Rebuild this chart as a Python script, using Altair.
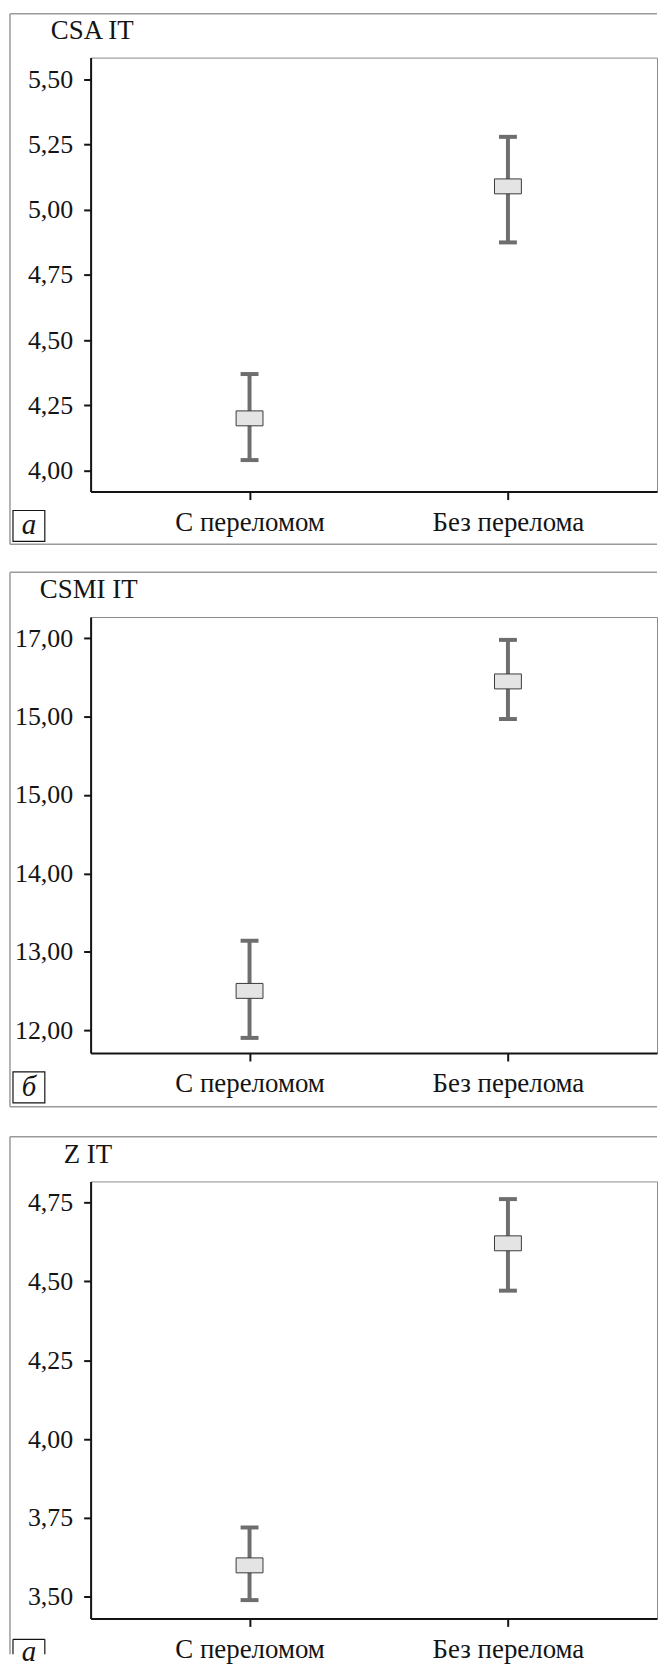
import altair as alt
import pandas as pd

# ---------------- data ----------------
groups = ["С переломом", "Без перелома"]

csa_mean = [4.20, 5.09]
csa_low = [4.04, 4.875]
csa_high = [4.37, 5.28]

csmi_mean = [12.50, 16.45]
csmi_low = [11.90, 15.97]
csmi_high = [13.14, 16.98]

z_mean = [3.60, 4.62]
z_low = [3.49, 4.47]
z_high = [3.72, 4.76]

titles = ["CSA IT", "CSMI IT", "Z IT"]
letters = ["а", "б", "а"]

csa_ticks = [4.00, 4.25, 4.50, 4.75, 5.00, 5.25, 5.50]
csa_labels = ["4,00", "4,25", "4,50", "4,75", "5,00", "5,25", "5,50"]
csmi_ticks = [12, 13, 14, 15, 16, 17]
csmi_labels = ["12,00", "13,00", "14,00", "15,00", "15,00", "17,00"]
z_ticks = [3.50, 3.75, 4.00, 4.25, 4.50, 4.75]
z_labels = ["3,50", "3,75", "4,00", "4,25", "4,50", "4,75"]

csa_domain = [3.919, 5.584]
csmi_domain = [11.707, 17.272]
z_domain = [3.432, 4.816]

# ---------------- style ----------------
FONT = "Liberation Serif"
INK = "#141414"
BAR = "#6e6e6e"
FRAME = "#9a9a9a"
W = 569
FL = -81  # frame left, relative to plot


def label_expr(vals, labs):
    s = ""
    for v, l in zip(vals, labs):
        s += f"abs(datum.value - {v}) < 1e-6 ? '{l}' : "
    return s + "''"


def panel(means, lows, highs, ticks, labels, domain, title, letter,
          H, top_off, bot_off, title_dx, bound_top=None, open_bottom=False):
    df = pd.DataFrame({"group": groups, "mean": means, "low": lows, "high": highs})
    one = pd.DataFrame({"k": [0]})

    x = alt.X(
        "group:N", sort=groups,
        scale=alt.Scale(type="point", padding=0.596, align=0.516),
        axis=alt.Axis(title=None, labelAngle=0, labelFont=FONT, labelFontSize=27,
                      labelColor=INK, labelPadding=10, tickSize=8, tickWidth=2,
                      tickColor=INK, domainColor=INK, domainWidth=2, grid=False),
    )
    yscale = alt.Scale(domain=domain, nice=False, zero=False)
    yaxis = alt.Axis(title=None, values=ticks, labelExpr=label_expr(ticks, labels),
                     labelFont=FONT, labelFontSize=26, labelColor=INK, labelPadding=11,
                     tickSize=7, tickWidth=2, tickColor=INK, domainColor=INK,
                     domainWidth=2, grid=False)

    base = alt.Chart(df)
    whisk = base.mark_rule(color=BAR, strokeWidth=4).encode(
        x=x, y=alt.Y("low:Q", scale=yscale, axis=yaxis), y2="high:Q")
    cap_lo = base.mark_tick(color=BAR, size=18, thickness=4, opacity=1).encode(
        x=x, y=alt.Y("low:Q", scale=yscale))
    cap_hi = base.mark_tick(color=BAR, size=18, thickness=4, opacity=1).encode(
        x=x, y=alt.Y("high:Q", scale=yscale))
    box = base.mark_tick(size=27, thickness=15, fill="#e4e4e4", stroke="#3a3a3a",
                         strokeWidth=1, opacity=1).encode(
        x=x, y=alt.Y("mean:Q", scale=yscale))

    deco = alt.Chart(one)
    layers = []
    if bound_top is not None:
        layers.append(deco.mark_rule(opacity=0).encode(
            x=alt.value(FL), x2=alt.value(FL + 10), y=alt.value(-bound_top)))
    layers.append(deco.mark_rule(color=FRAME, strokeWidth=1.5).encode(
        x=alt.value(FL), x2=alt.value(W), y=alt.value(-top_off)))
    layers.append(deco.mark_rule(color=FRAME, strokeWidth=1.5).encode(
        x=alt.value(FL), y=alt.value(-top_off), y2=alt.value(H + bot_off)))
    if not open_bottom:
        layers.append(deco.mark_rule(color=FRAME, strokeWidth=1.5).encode(
            x=alt.value(FL), x2=alt.value(W), y=alt.value(H + bot_off)))
        layers.append(deco.mark_rect(filled=False, stroke=INK, strokeWidth=1.2).encode(
            x=alt.value(-78), x2=alt.value(-46), y=alt.value(H + 19), y2=alt.value(H + 50)))
    else:
        for xx in (-78, -46):
            layers.append(deco.mark_rule(color=INK, strokeWidth=1.2).encode(
                x=alt.value(xx), y=alt.value(H + 21), y2=alt.value(H + bot_off)))
        layers.append(deco.mark_rule(color=INK, strokeWidth=1.2).encode(
            x=alt.value(-78), x2=alt.value(-46), y=alt.value(H + 21)))

    layers.append(deco.mark_text(align="left", baseline="middle", font=FONT,
                                 fontSize=27, color=INK).encode(
        x=alt.value(title_dx), y=alt.value(-27), text=alt.value(title)))
    layers.append(deco.mark_text(align="center", baseline="middle", font=FONT,
                                 fontSize=29, fontStyle="italic", color=INK).encode(
        x=alt.value(-62), y=alt.value(H + 34), text=alt.value(letter)))

    layers += [whisk, cap_lo, cap_hi, box]
    return alt.layer(*layers).properties(width=W, height=H)


p1 = panel(csa_mean, csa_low, csa_high, csa_ticks, csa_labels, csa_domain,
           titles[0], letters[0], H=436, top_off=44, bot_off=53, title_dx=-40)
p2 = panel(csmi_mean, csmi_low, csmi_high, csmi_ticks, csmi_labels, csmi_domain,
           titles[1], letters[1], H=438, top_off=45, bot_off=54, title_dx=-51)
p3 = panel(z_mean, z_low, z_high, z_ticks, z_labels, z_domain,
           titles[2], letters[2], H=439, top_off=45, bot_off=36, title_dx=-27,
           bound_top=48, open_bottom=True)

chart = alt.vconcat(p1, p2, p3, spacing=24).configure_view(
    stroke="#8a8a8a", strokeWidth=1
).properties(padding={"top": 0, "left": 0, "right": 0, "bottom": 0},
             background="white")

chart.save("out.html", embed_options={"renderer": "svg", "actions": False})
